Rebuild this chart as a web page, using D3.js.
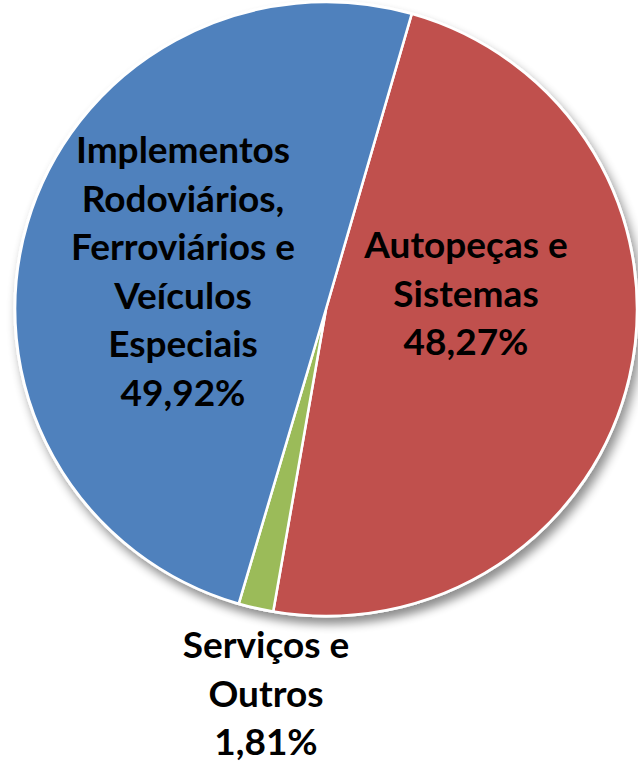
<!DOCTYPE html>
<html>
<head>
<meta charset="utf-8">
<script src="https://cdn.jsdelivr.net/npm/d3@7"></script>
<style>
  body { margin: 0; background: #fff; }
  .label { font-family: Lato, "Open Sans", sans-serif; font-weight: bold; fill: #000; }
</style>
</head>
<body>
<div id="chart"></div>
<script>
// participação por segmento
const categories = ['Autopeças e Sistemas', 'Serviços e Outros', 'Implementos Rodoviários, Ferroviários e Veículos Especiais'];
const values = [48.27, 1.81, 49.92];
const labelLines = [
    ['Autopeças e', 'Sistemas', '48,27%'],
    ['Serviços e', 'Outros', '1,81%'],
    ['Implementos', 'Rodoviários,', 'Ferroviários e', 'Veículos', 'Especiais', '49,92%']
];
const colors = ['#C0504D', '#9BBB59', '#4F81BD'];

const width = 638, height = 762;
const cx = 326, cy = 309, radius = 307;

const svg = d3.select('#chart').append('svg').attr('width', width).attr('height', height);

// sombra
const defs = svg.append('defs');
const f = defs.append('filter').attr('id', 'shadow').attr('x', '-10%').attr('y', '-10%').attr('width', '130%').attr('height', '130%');
f.append('feGaussianBlur').attr('in', 'SourceAlpha').attr('stdDeviation', 5);
f.append('feOffset').attr('dx', 4).attr('dy', 7).attr('result', 'blur');
f.append('feComponentTransfer').append('feFuncA').attr('type', 'linear').attr('slope', 0.45);
const merge = f.append('feMerge');
merge.append('feMergeNode');
merge.append('feMergeNode').attr('in', 'SourceGraphic');

const startAngle = 16 * Math.PI / 180;
const pie = d3.pie().sort(null).startAngle(startAngle).endAngle(startAngle + 2 * Math.PI);
const arc = d3.arc().innerRadius(0).outerRadius(radius);
const arcs = pie(values);

const g = svg.append('g').attr('transform', `translate(${cx},${cy}) scale(${311 / radius},1)`);

g.append('circle').attr('r', radius + 1.5).attr('fill', '#fff').attr('filter', 'url(#shadow)');

g.selectAll('path.slice').data(arcs).enter().append('path')
    .attr('class', 'slice')
    .attr('d', arc)
    .attr('fill', (d, i) => colors[i])
    .attr('stroke', '#fff')
    .attr('stroke-width', 2.5)
    .attr('stroke-linejoin', 'round');

// rótulos (posição do bloco em px, relativa ao centro)
const labelAnchors = [[140, -51], [-60, 349], [-143, -146]];
const lineH = 48.5;
const fontSize = 37;

arcs.forEach(function (d, i) {
    const t = svg.append('text').attr('class', 'label')
        .attr('text-anchor', 'middle')
        .style('font-size', fontSize + 'px')
        .attr('transform', `translate(${cx + labelAnchors[i][0]},${cy + labelAnchors[i][1]})`);
    labelLines[i].forEach(function (line, j) {
        t.append('tspan').attr('x', 0).attr('y', j * lineH).text(line);
    });
});
</script>
</body>
</html>
